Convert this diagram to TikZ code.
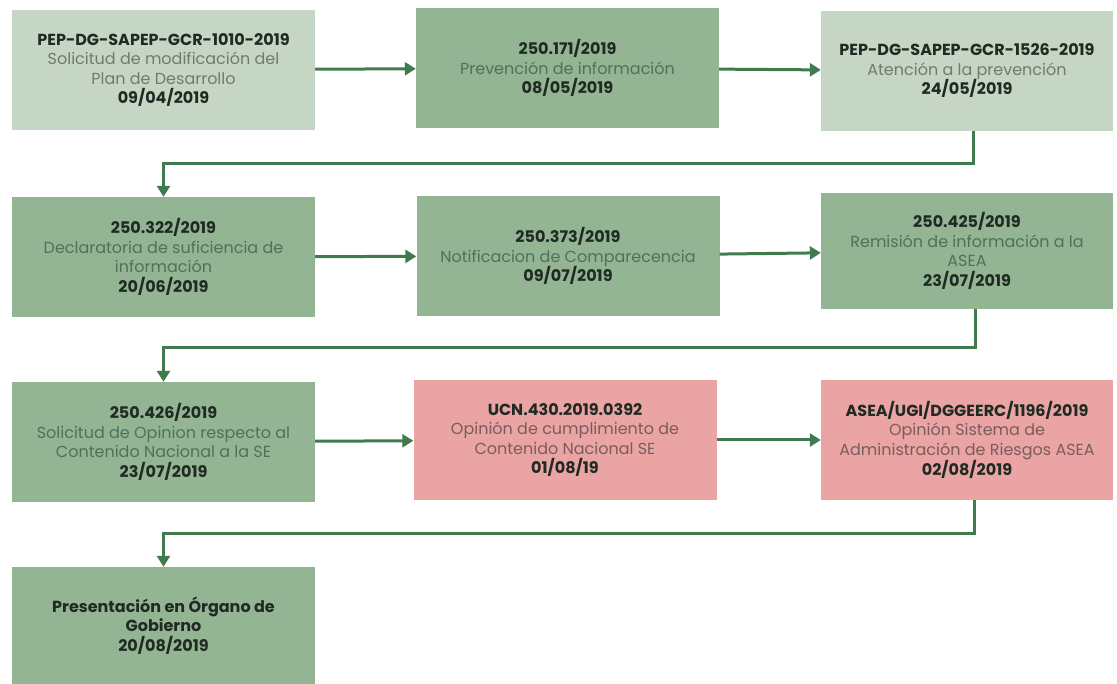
\documentclass[tikz,border=0pt]{standalone}
\usepackage{fontspec}
\setmainfont{Poppins}
\usetikzlibrary{arrows.meta}

\definecolor{verdeclaro}{HTML}{C6D6C4}
\definecolor{verdemedio}{HTML}{93B593}
\definecolor{rosa}{HTML}{E9A4A3}
\definecolor{flechaverde}{HTML}{3F7B4F}
\definecolor{tinta}{HTML}{1F2A23}
\definecolor{grisclaro}{HTML}{6F7B71}
\definecolor{grisverde}{HTML}{52705A}
\definecolor{grisrosa}{HTML}{7B5C5C}

\newcommand{\codigo}[1]{\textbf{\textcolor{tinta}{#1}}}

\tikzset{
  caja/.style={minimum width=303pt, minimum height=120pt, inner sep=0pt,
    align=center, font=\fontsize{16}{19.5}\selectfont},
  claro/.style={caja, fill=verdeclaro, text=grisclaro},
  medio/.style={caja, fill=verdemedio, text=grisverde},
  rosado/.style={caja, fill=rosa, text=grisrosa},
  flecha/.style={draw=flechaverde, line width=3pt, -{Triangle[length=11pt,width=13pt]}}
}

\begin{document}
\begin{tikzpicture}[x=1pt, y=-1pt]
          \useasboundingbox (0,0) rectangle (1117,684);
          \fill[white] (0,0) rectangle (1117,684);

          \node[claro] (b1) at (163.5,70) {\codigo{PEP-DG-SAPEP-GCR-1010-2019}\\Solicitud de modificación del\\Plan de Desarrollo\\\codigo{09/04/2019}};
          \node[medio] (b2) at (567.5,68) {\codigo{250.171/2019}\\Prevención de información\\\codigo{08/05/2019}};
          \node[claro, minimum width=292pt] (b3) at (967,71) {\codigo{PEP-DG-SAPEP-GCR-1526-2019}\\Atención a la prevención\\\codigo{24/05/2019}};

          \node[medio] (b4) at (163.5,257) {\codigo{250.322/2019}\\Declaratoria de suficiencia de\\información\\\codigo{20/06/2019}};
          \node[medio] (b5) at (568,256) {\codigo{250.373/2019}\\Notificacion de Comparecencia\\\codigo{09/07/2019}};
          \node[medio, minimum width=292pt, minimum height=116pt] (b6) at (967,251) {\codigo{250.425/2019}\\Remisión de información a la\\ASEA\\\codigo{23/07/2019}};

          \node[medio] (b7) at (163.5,442) {\codigo{250.426/2019}\\Solicitud de Opinion respecto al\\Contenido Nacional a la SE\\\codigo{23/07/2019}};
          \node[rosado] (b8) at (565,440) {\codigo{UCN.430.2019.0392}\\Opinión de cumplimiento de\\Contenido Nacional SE\\\codigo{01/08/19}};
          \node[rosado, minimum width=292pt] (b9) at (967,440) {\codigo{ASEA/UGI/DGGEERC/1196/2019}\\Opinión Sistema de\\Administración de Riesgos ASEA\\\codigo{02/08/2019}};

          \node[medio, minimum height=117pt] (b10) at (163.5,625.5) {\codigo{Presentación en Órgano de}\\\codigo{Gobierno}\\\codigo{20/08/2019}};

          \draw[flecha] (b1) -- (b2);
          \draw[flecha] (b2) -- (b3);
          \draw[flecha] ([xshift=6pt]b3.south) -- ++(0,32) -| (b4.north);

          \draw[flecha] (b4) -- (b5);
          \draw[flecha] (b5) -- (b6);
          \draw[flecha] ([xshift=8pt]b6.south) -- ++(0,38) -| (b7.north);

          \draw[flecha] (b7) -- (b8);
          \draw[flecha] (b8) -- (b9);
          \draw[flecha] ([xshift=7pt]b9.south) -- ++(0,33) -| (b10.north);

\end{tikzpicture}
\end{document}
